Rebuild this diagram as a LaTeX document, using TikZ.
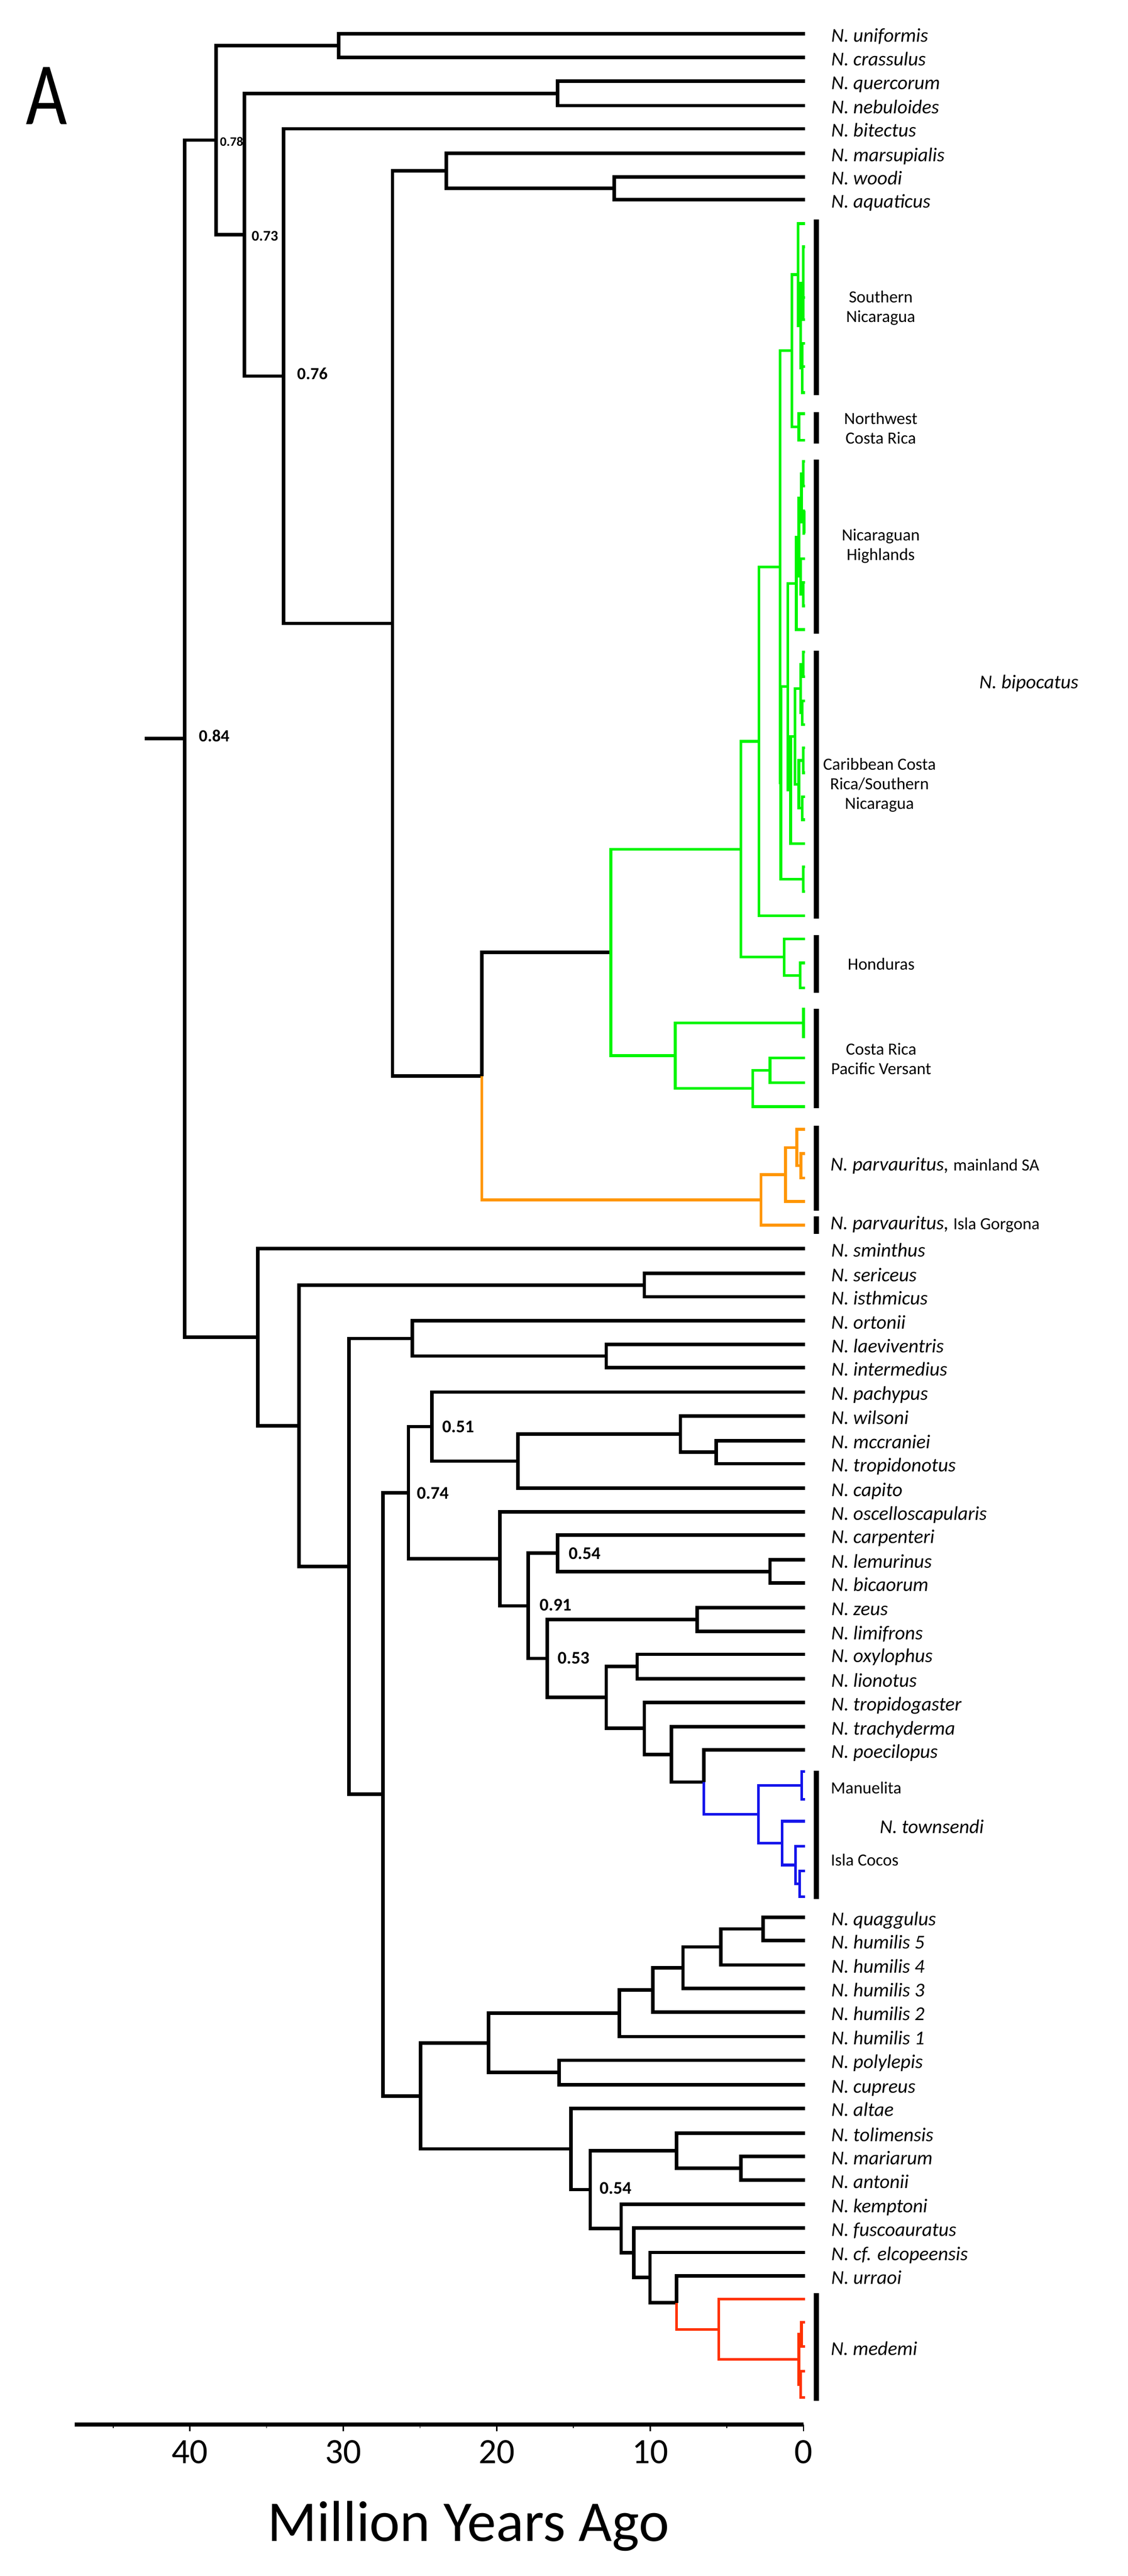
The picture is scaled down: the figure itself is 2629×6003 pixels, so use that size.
\documentclass[tikz,border=0pt]{standalone}
\usepackage{fontspec}
\usepackage{graphicx}
\setmainfont{Carlito}
\usetikzlibrary{calc}
\definecolor{tgreen}{RGB}{0,245,0}
\definecolor{torange}{RGB}{255,150,0}
\definecolor{tblue}{RGB}{20,20,235}
\definecolor{tred}{RGB}{255,50,0}
\newcommand\cl[4]{\coordinate (xref) at (#2,0);\coordinate (tmpm) at ($(#3)!0.5!(#4)$);\coordinate (#1) at (tmpm -| xref);}
\newcommand\tip[2]{\coordinate (#1) at (1877,#2);}
\newcommand\spl[3]{\coordinate (#1) at (1877,#2);\node[sp] (L#1) at (1937,{#2+19}) {#3};}
\tikzset{
 br/.style={line width=2.3pt, draw=black},
 gbr/.style={line width=1.8pt, draw=tgreen},
 obr/.style={line width=1.9pt, draw=torange},
 bbr/.style={line width=1.8pt, draw=tblue},
 rbr/.style={line width=1.8pt, draw=tred},
 cbar/.style={line width=3.4pt, draw=black},
 sp/.style={anchor=base west, inner sep=0pt, font=\fontsize{13}{15}\selectfont\itshape},
 reg/.style={align=center, inner sep=0pt, font=\fontsize{11.3}{13}\selectfont},
 bs/.style={anchor=west, inner sep=0pt, font=\fontsize{11.8}{13}\selectfont\bfseries},
}
\begin{document}
\begin{tikzpicture}[x=0.01cm,y=-0.01cm]
\useasboundingbox (0,0) rectangle (2629,6003);
\fill[white] (0,0) rectangle (2629,6003);
% ---------- tips, top ----------
\spl{uni}{79}{N. uniformis}
\spl{cra}{134}{N. crassulus}
\spl{que}{189}{N. quercorum}
\spl{neb}{246}{N. nebuloides}
\spl{bit}{300}{N. bitectus}
\spl{mar}{357}{N. marsupialis}
\spl{woo}{412}{N. woodi}
\spl{aqu}{465}{N. aquaticus}
% green tips
\tip{s1}{521}\tip{s2}{575}\tip{s2b}{693}\tip{s3}{745}\tip{s4}{800}\tip{s5}{854}\tip{s6}{915}
\tip{w1}{964}\tip{w2}{1026}
\tip{h1}{1075}\tip{h2}{1133}\tip{h3}{1190}\tip{h4}{1243}\tip{h5}{1302}\tip{h6}{1357}\tip{h7}{1412}\tip{h8}{1467}
\tip{c1}{1519}\tip{c2}{1577}\tip{c3}{1633}\tip{c4}{1689}\tip{c5}{1743}\tip{c6}{1801}
\tip{c7}{1857}\tip{c8}{1910}\tip{c9}{1966}\tip{c10}{2020}\tip{c11}{2078}\tip{c12}{2134}
\tip{o1}{2188}\tip{o2}{2244}\tip{o3}{2302}
\tip{r1}{2351}\tip{r2}{2416}\tip{r3}{2465}\tip{r4}{2523}\tip{r5}{2579}
% orange tips
\tip{p1}{2632}\tip{p2}{2688}\tip{p3}{2745}\tip{p4}{2800}\tip{pg}{2855}
% ---------- tips, lower ----------
\spl{smi}{2910}{N. sminthus}
\spl{ser}{2967}{N. sericeus}
\spl{ist}{3022}{N. isthmicus}
\spl{ort}{3078}{N. ortonii}
\spl{lae}{3133}{N. laeviventris}
\spl{int}{3187}{N. intermedius}
\spl{pac}{3244}{N. pachypus}
\spl{wil}{3300}{N. wilsoni}
\spl{mcc}{3357}{N. mccraniei}
\spl{trp}{3411}{N. tropidonotus}
\spl{cap}{3468}{N. capito}
\spl{osc}{3523}{N. oscelloscapularis}
\spl{car}{3577}{N. carpenteri}
\spl{lem}{3635}{N. lemurinus}
\spl{bic}{3689}{N. bicaorum}
\spl{zeu}{3746}{N. zeus}
\spl{lim}{3802}{N. limifrons}
\spl{oxy}{3855}{N. oxylophus}
\spl{lio}{3912}{N. lionotus}
\spl{tpg}{3967}{N. tropidogaster}
\spl{tra}{4024}{N. trachyderma}
\spl{poe}{4078}{N. poecilopus}
\tip{bm1}{4128}\tip{bm2}{4193}\tip{bc1}{4244}\tip{bc2}{4302}\tip{bc3}{4360}\tip{bc4}{4420}
\spl{qua}{4468}{N. quaggulus}
\spl{hu5}{4522}{N. humilis 5}
\spl{hu4}{4579}{N. humilis 4}
\spl{hu3}{4634}{N. humilis 3}
\spl{hu2}{4689}{N. humilis 2}
\spl{hu1}{4746}{N. humilis 1}
\spl{pol}{4801}{N. polylepis}
\spl{cup}{4858}{N. cupreus}
\spl{alt}{4913}{N. altae}
\spl{tol}{4971}{N. tolimensis}
\spl{mri}{5025}{N. mariarum}
\spl{ant}{5080}{N. antonii}
\spl{kem}{5137}{N. kemptoni}
\spl{fus}{5192}{N. fuscoauratus}
\spl{elc}{5249}{N. cf. elcopeensis}
\spl{urr}{5304}{N. urraoi}
\tip{m1}{5358}\tip{m2}{5412}\tip{m3}{5468}\tip{m4}{5526}\tip{m5}{5587}
% ---------- internal nodes: green ----------
\cl{SN2}{1872}{s2}{s3}\cl{SN3}{1870}{s4}{s6}\cl{SN1}{1866}{SN2}{SN3}\cl{SN0}{1860}{s1}{SN1}
\cl{NW}{1862}{w1}{w2}\cl{G4}{1846}{SN0}{NW}
\cl{NHc1}{1872}{h1}{h2}\cl{NHc2}{1874}{h3}{h4}\cl{NHc}{1868}{NHc1}{NHc2}
\cl{NHe}{1872}{h6}{h7}\cl{NHd}{1866}{h5}{NHe}\cl{NHb}{1862}{NHc}{NHd}\cl{NHa}{1856}{NHb}{h8}
\cl{Ca1}{1872}{c1}{c2}\cl{Ca2}{1870}{c3}{c4}\cl{Ca}{1866}{Ca1}{Ca2}
\cl{Cb1}{1872}{c5}{c6}\cl{Cb2}{1870}{c7}{c8}\cl{Cb}{1862}{Cb1}{Cb2}
\cl{C2}{1853}{Ca}{Cb}\cl{C1}{1843}{C2}{c9}\cl{N6}{1836}{NHa}{C1}
\cl{C3}{1872}{c10}{c11}\cl{N5}{1820}{N6}{C3}
\cl{G3}{1818}{G4}{N5}\cl{G2}{1769}{G3}{c12}
\cl{Hon1}{1865}{o2}{o3}\cl{Hon0}{1828}{o1}{Hon1}
\cl{G1}{1727}{G2}{Hon0}
\cl{CR1}{1873}{r1}{r2}\cl{CR2}{1795}{r3}{r4}\cl{CR3}{1755}{CR2}{r5}\cl{CR0}{1574}{CR1}{CR3}
\cl{G0}{1424}{G1}{CR0}
% orange
\cl{O3}{1867}{p2}{p3}\cl{O2}{1857}{p1}{O3}\cl{O1}{1831}{O2}{p4}\cl{O0}{1774}{O1}{pg}
% top black
\cl{Q}{1123}{G0}{O0}
\cl{WA}{1432}{woo}{aqu}\cl{M}{1040}{mar}{WA}\cl{P}{915}{M}{Q}
\cl{n076}{661}{bit}{P}\cl{QN}{1300}{que}{neb}\cl{n073}{570}{QN}{n076}
\cl{UC}{789}{uni}{cra}\cl{n078}{504}{UC}{n073}
% lower black
\cl{SI}{1502}{ser}{ist}\cl{LI}{1413}{lae}{int}\cl{OL}{961}{ort}{LI}
\cl{MT}{1669}{mcc}{trp}\cl{W}{1586}{wil}{MT}\cl{Cap}{1207}{W}{cap}\cl{n051}{1007}{pac}{Cap}
\cl{LB}{1795}{lem}{bic}\cl{n054a}{1300}{car}{LB}\cl{ZL}{1625}{zeu}{lim}\cl{Ox}{1485}{oxy}{lio}
\cl{BlM}{1869}{bm1}{bm2}\cl{BlC3}{1864}{bc3}{bc4}\cl{BlC2}{1854}{bc2}{BlC3}\cl{BlC}{1823}{bc1}{BlC2}
\cl{Bl0}{1768}{BlM}{BlC}\cl{Po}{1641}{poe}{Bl0}\cl{Ty}{1565}{tra}{Po}\cl{Tr}{1502}{tpg}{Ty}
\cl{OT}{1413}{Ox}{Tr}\cl{n053}{1276}{ZL}{OT}\cl{n091}{1231}{n054a}{n053}\cl{K}{1165}{osc}{n091}
\cl{n074}{952}{n051}{K}
\cl{QH}{1779}{qua}{hu5}\cl{Hu4}{1680}{QH}{hu4}\cl{Hu3}{1592}{Hu4}{hu3}\cl{Hu2}{1522}{Hu3}{hu2}
\cl{Hu}{1444}{Hu2}{hu1}\cl{PC}{1303}{pol}{cup}\cl{H}{1139}{Hu}{PC}
\cl{Rd2}{1868}{m2}{m3}\cl{Rd3}{1866}{m4}{m5}\cl{Rd1}{1862}{Rd2}{Rd3}\cl{Rd0}{1675}{m1}{Rd1}
\cl{MA}{1727}{mri}{ant}\cl{To}{1577}{tol}{MA}\cl{Ur}{1577}{urr}{Rd0}\cl{El}{1515}{elc}{Ur}
\cl{Fu}{1477}{fus}{El}\cl{Ke}{1448}{kem}{Fu}\cl{n054b}{1376}{To}{Ke}\cl{Al}{1331}{alt}{n054b}
\cl{B5}{980}{H}{Al}\cl{B4}{893}{n074}{B5}\cl{B3}{813}{OL}{B4}\cl{B2}{697}{SI}{B3}\cl{B1}{601}{smi}{B2}
\cl{root}{430}{n078}{B1}
\coordinate (rootstem) at (337,0 |- root);
% ---------- branches: black ----------
\draw[br] (rootstem) -- (root);
\foreach \p/\c in {root/n078,root/B1,n078/UC,n078/n073,UC/uni,UC/cra,n073/QN,n073/n076,QN/que,QN/neb,
 n076/bit,n076/P,P/M,P/Q,M/mar,M/WA,WA/woo,WA/aqu,Q/G0,
 B1/smi,B1/B2,B2/SI,B2/B3,SI/ser,SI/ist,B3/OL,B3/B4,OL/ort,OL/LI,LI/lae,LI/int,
 B4/n074,B4/B5,n074/n051,n074/K,n051/pac,n051/Cap,Cap/W,Cap/cap,W/wil,W/MT,MT/mcc,MT/trp,
 K/osc,K/n091,n091/n054a,n091/n053,n054a/car,n054a/LB,LB/lem,LB/bic,n053/ZL,n053/OT,ZL/zeu,ZL/lim,
 OT/Ox,OT/Tr,Ox/oxy,Ox/lio,Tr/tpg,Tr/Ty,Ty/tra,Ty/Po,Po/poe,
 B5/H,B5/Al,H/Hu,H/PC,Hu/Hu2,Hu/hu1,Hu2/Hu3,Hu2/hu2,Hu3/Hu4,Hu3/hu3,Hu4/QH,Hu4/hu4,QH/qua,QH/hu5,
 PC/pol,PC/cup,Al/alt,Al/n054b,n054b/To,n054b/Ke,To/tol,To/MA,MA/mri,MA/ant,Ke/kem,Ke/Fu,Fu/fus,Fu/El,
 El/elc,El/Ur,Ur/urr}
 \draw[br] (\p) |- (\c);
% green
\foreach \p/\c in {G0/G1,G0/CR0,G1/G2,G1/Hon0,G2/G3,G2/c12,G3/G4,G3/N5,G4/SN0,G4/NW,SN0/s1,SN0/SN1,
 SN1/SN2,SN1/SN3,SN2/s2,SN2/s2b,SN2/s3,SN3/s4,SN3/s5,SN3/s6,NW/w1,NW/w2,
 N5/N6,N5/C3,C3/c10,C3/c11,N6/NHa,N6/C1,NHa/NHb,NHa/h8,NHb/NHc,NHb/NHd,NHc/NHc1,NHc/NHc2,
 NHc1/h1,NHc1/h2,NHc2/h3,NHc2/h4,NHd/h5,NHd/NHe,NHe/h6,NHe/h7,
 C1/C2,C1/c9,C2/Ca,C2/Cb,Ca/Ca1,Ca/Ca2,Ca1/c1,Ca1/c2,Ca2/c3,Ca2/c4,Cb/Cb1,Cb/Cb2,Cb1/c5,Cb1/c6,Cb2/c7,Cb2/c8,
 Hon0/o1,Hon0/Hon1,Hon1/o2,Hon1/o3,CR0/CR1,CR0/CR3,CR1/r1,CR1/r2,CR3/CR2,CR3/r5,CR2/r3,CR2/r4}
 \draw[gbr] (\p) |- (\c);
% orange
\foreach \p/\c in {Q/O0,O0/O1,O0/pg,O1/O2,O1/p4,O2/p1,O2/O3,O3/p2,O3/p3}
 \draw[obr] (\p) |- (\c);
% blue
\foreach \p/\c in {Po/Bl0,Bl0/BlM,Bl0/BlC,BlM/bm1,BlM/bm2,BlC/bc1,BlC/BlC2,BlC2/bc2,BlC2/BlC3,BlC3/bc3,BlC3/bc4}
 \draw[bbr] (\p) |- (\c);
% red
\foreach \p/\c in {Ur/Rd0,Rd0/m1,Rd0/Rd1,Rd1/Rd2,Rd1/Rd3,Rd2/m2,Rd2/m3,Rd3/m4,Rd3/m5}
 \draw[rbr] (\p) |- (\c);
% ---------- clade bars ----------
\foreach \n/\a/\b in {sn/511/921,nw/960/1034,nh/1071/1477,cb/1516/2141,hn/2179/2313,cr/2351/2583,
 pm/2623/2821,pgo/2835/2875,tw/4126/4425,md/5344/5595}{
 \coordinate (bar\n a) at (1903,\a); \coordinate (bar\n b) at (1903,\b);
 \draw[cbar] (bar\n a) -- (bar\n b);}
% ---------- region labels ----------
\node[reg] (rSN) at (2053,718) {Southern\\Nicaragua};
\node[reg] (rNW) at (2053,998) {Northwest\\Costa Rica};
\node[reg] (rNH) at (2053,1273) {Nicaraguan\\Highlands};
\node[reg] (rCB) at (2050,1830) {Caribbean Costa\\Rica/Southern\\Nicaragua};
\node[reg] (rHN) at (2054,2246) {Honduras};
\node[reg] (rCR) at (2054,2467) {Costa Rica\\Pacific Versant};
\node[sp] (Lbip) at (2282,1605) {N. bipocatus};
\node[anchor=base west, inner sep=0pt] (Lparv) at (1935,2728) {\fontsize{13}{15}\selectfont\itshape N. parvauritus,\ \upshape\fontsize{11.3}{13}\selectfont mainland SA};
\node[anchor=base west, inner sep=0pt] (Lgorg) at (1935,2865) {\fontsize{13}{15}\selectfont\itshape N. parvauritus,\ \upshape\fontsize{11.3}{13}\selectfont Isla Gorgona};
\node[reg, anchor=west] (rMan) at (1936,4166) {Manuelita};
\node[reg, anchor=west] (rIC) at (1936,4334) {Isla Cocos};
\node[sp] (Ltow) at (2050,4272) {N. townsendi};
\node[sp] (Lmed) at (1936,5488) {N. medemi};
% ---------- support values ----------
\node[bs, font=\fontsize{8.6}{10}\selectfont\bfseries] (b078) at (512,330) {0.78};
\node[bs, font=\fontsize{9.8}{11}\selectfont\bfseries] (b073) at (586,550) {0.73};
\node[bs, font=\fontsize{11.3}{13}\selectfont\bfseries] (b076) at (692,871) {0.76};
\node[bs, font=\fontsize{11.3}{13}\selectfont\bfseries] (b084) at (463,1715) {0.84};
\node[bs] (b051) at (1030,3325) {0.51};
\node[bs] (b074) at (971,3480) {0.74};
\node[bs] (b054a) at (1325,3620) {0.54};
\node[bs] (b091) at (1257,3740) {0.91};
\node[bs] (b053) at (1299,3864) {0.53};
\node[bs] (b054b) at (1397,5099) {0.54};
% ---------- panel letter ----------
\node[anchor=base west, inner sep=0pt, xscale=0.8, font=\fontsize{59}{60}\selectfont] (pA) at (60,290) {A};
% ---------- axis ----------
\coordinate (ax0) at (174,5650); \coordinate (ax1) at (1873,5650);
\draw[line width=2.9pt] (ax0) -- (ax1);
\foreach \t in {0,10,20,30,40} \draw[line width=0.9pt] ({1873-35.76*\t},5650) -- ++(0,16);
\foreach \t in {5,15,25,35,45} \draw[line width=0.6pt] ({1873-35.76*\t},5650) -- ++(0,8);
\foreach \t in {0,10,20,30,40} \node[anchor=base, inner sep=0pt, font=\fontsize{23.6}{26}\selectfont] (tk\t) at ({1873-35.76*\t},5740) {\t};
\node[anchor=base, inner sep=0pt, font=\fontsize{37.7}{40}\selectfont] (axlab) at (1092,5922) {\resizebox{9.36cm}{!}{Million Years Ago}};
\end{tikzpicture}
\end{document}
